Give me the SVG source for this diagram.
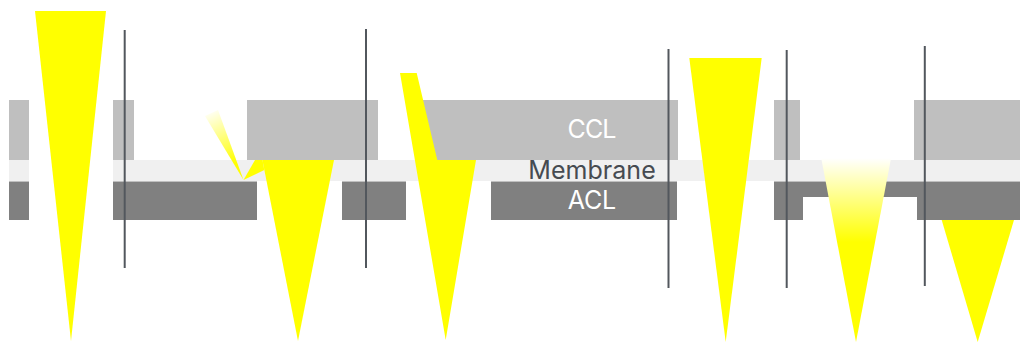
<svg xmlns="http://www.w3.org/2000/svg" width="1020" height="342" viewBox="0 0 1020 342">
  <defs>
    <style>
      .ccl { fill: #bfbfbf; }
      .mem { fill: #f0f0f0; }
      .acl { fill: #808080; }
      .beam { fill: #ffff00; }
      .rule { stroke: #52575d; stroke-width: 2; fill: none; }
      .lbl { font-family: Inter, "Liberation Sans", sans-serif; font-size: 25px; text-anchor: middle; }
      .light { fill: #ffffff; }
      .dark { fill: #464b51; }
    </style>
    <linearGradient id="fadeRefl" gradientUnits="userSpaceOnUse" x1="211" y1="112" x2="243" y2="180">
      <stop offset="0" stop-color="#ffff00" stop-opacity="0.05"/>
      <stop offset="0.75" stop-color="#ffff00" stop-opacity="1"/>
    </linearGradient>
    <linearGradient id="fadeDown" gradientUnits="userSpaceOnUse" x1="0" y1="158" x2="0" y2="242">
      <stop offset="0" stop-color="#ffffff"/>
      <stop offset="1" stop-color="#ffff00"/>
    </linearGradient>
  </defs>
  <rect width="1020" height="342" fill="#ffffff"/>

  <g id="layers">
    <g id="membrane">
      <rect class="mem" x="9" y="160" width="20" height="21"/>
      <rect class="mem" x="113" y="160" width="907" height="21"/>
    </g>
    <g id="ccl">
      <rect class="ccl" x="9" y="100" width="20" height="60"/>
      <rect class="ccl" x="113" y="100" width="21" height="60"/>
      <rect class="ccl" x="247" y="100" width="131" height="60"/>
      <rect class="ccl" x="423" y="100" width="255" height="60"/>
      <rect class="ccl" x="774" y="100" width="26" height="60"/>
      <rect class="ccl" x="914" y="100" width="106" height="60"/>
    </g>
    <g id="acl">
      <rect class="acl" x="9" y="181.5" width="20" height="38.5"/>
      <rect class="acl" x="113" y="181.5" width="144" height="38.5"/>
      <rect class="acl" x="342" y="181.5" width="64" height="38.5"/>
      <rect class="acl" x="491" y="181.5" width="186" height="38.5"/>
      <path class="acl" d="M774 181.5 H1020 V220 H917 V197 H803 V220 H774 Z"/>
    </g>
  </g>

  <g id="beams">
    <polygon id="beam1" class="beam" points="35,11 106,11 71,341"/>
    <polygon id="beam2-refl" fill="url(#fadeRefl)" points="205,116 218,110 243.5,180"/>
    <polygon id="beam2-wedge" class="beam" points="243.5,180 255,160 262.5,160 264.3,170"/>
    <polygon id="beam2" class="beam" points="262.4,160 334,160 298,341"/>
    <polygon id="beam3" class="beam" points="400,73 416.7,73 437.3,160 476,160 445.7,340"/>
    <polygon id="beam4" class="beam" points="689.3,58 761.7,58 725.7,342"/>
    <polygon id="beam5" fill="url(#fadeDown)" points="821.3,158.5 891,158.5 856,342"/>
    <polygon id="beam6" class="beam" points="941.7,220 1014,220 977.7,342"/>
  </g>

  <g id="connectors">
    <line class="rule" x1="124.7" y1="30" x2="124.7" y2="268"/>
    <line class="rule" x1="366" y1="29" x2="366" y2="268"/>
    <line class="rule" x1="668.5" y1="49" x2="668.5" y2="288"/>
    <line class="rule" x1="786.7" y1="50" x2="786.7" y2="288"/>
    <line class="rule" x1="924.8" y1="46" x2="924.8" y2="286"/>
  </g>

  <g id="labels">
    <text id="lbl-ccl" class="lbl light" x="592" y="137.5" textLength="49">CCL</text>
    <text id="lbl-membrane" class="lbl dark" x="592" y="179.3" textLength="127.5">Membrane</text>
    <text id="lbl-acl" class="lbl light" x="592" y="208.7" textLength="48.5">ACL</text>
  </g>
</svg>
